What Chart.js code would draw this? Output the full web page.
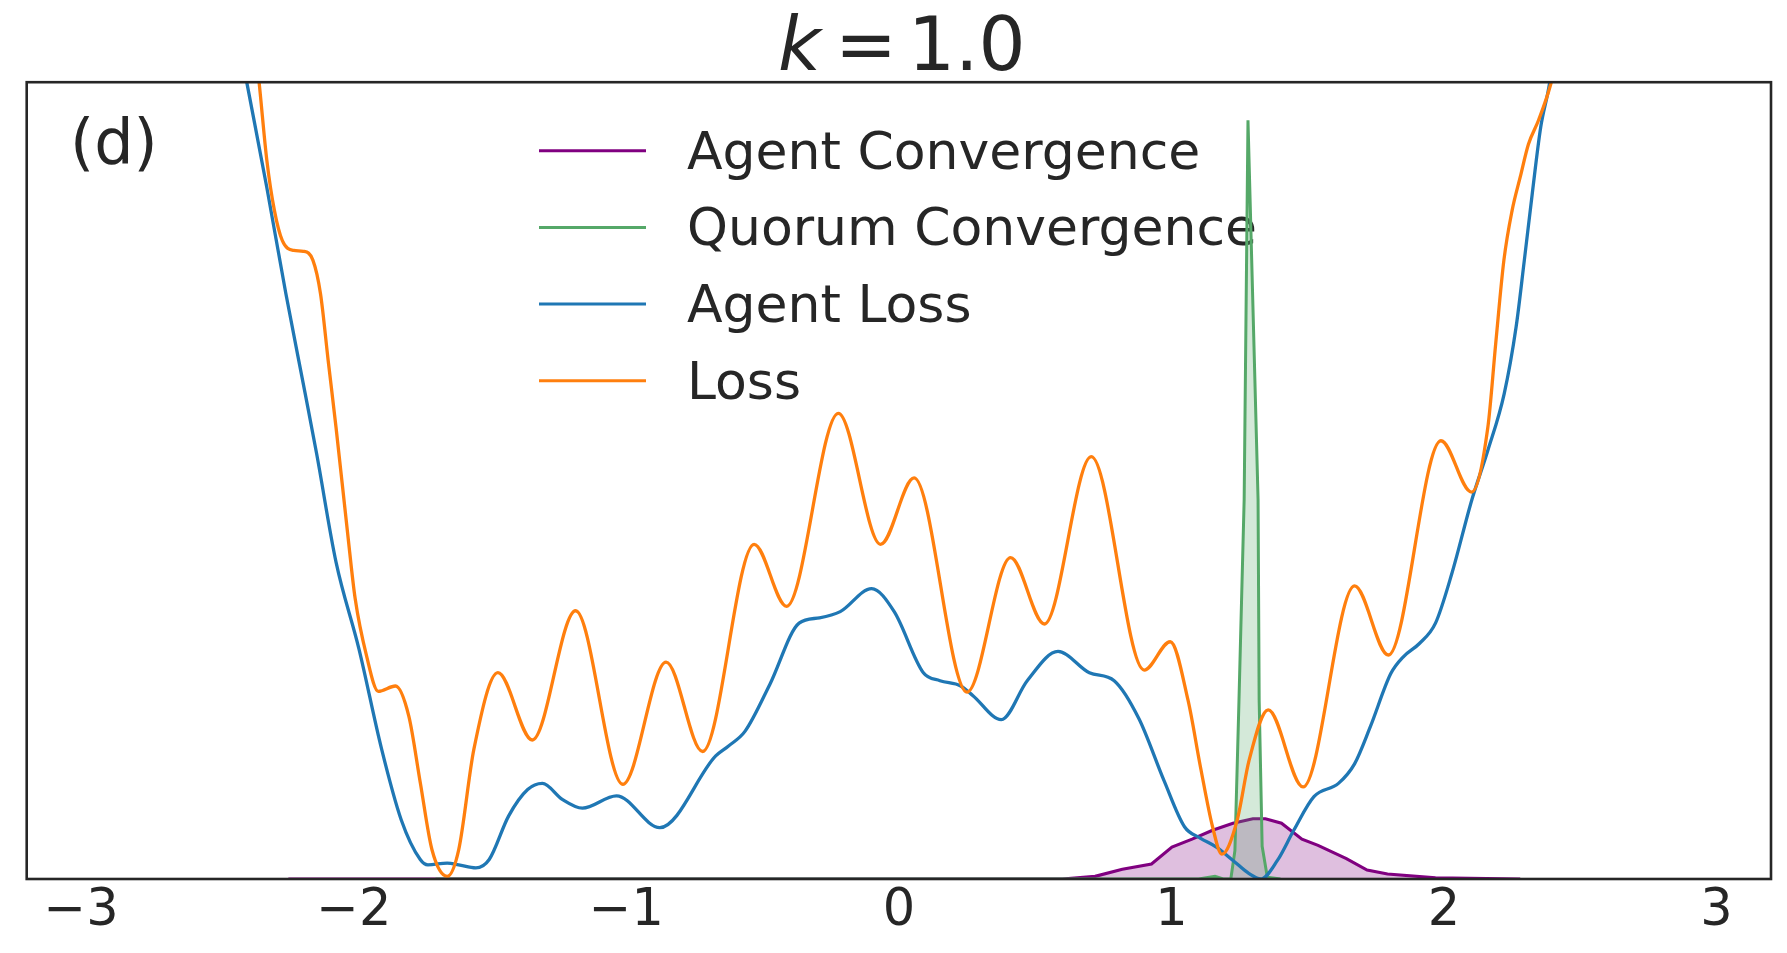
<!DOCTYPE html>
<html>
<head>
<meta charset="utf-8">
<title>k = 1.0</title>
<script src="https://cdn.jsdelivr.net/npm/chart.js@4.4.1/dist/chart.umd.min.js"></script>
<style>
  html, body { margin: 0; padding: 0; background: #fff; }
</style>
</head>
<body>
<canvas id="canvas" width="1787" height="953"></canvas>
<script>
// values (y in plot units, 0..9)
var xTicks = [-3, -2, -1, 0, 1, 2, 3];
var seriesNames = ['Agent Convergence', 'Quorum Convergence', 'Agent Loss', 'Loss'];
var seriesColors = ['#800080', '#55a868', '#1f77b4', '#ff7f0e'];

var agentConvX = [-2.24, 0.60, 0.72, 0.82, 0.927, 1.002, 1.076, 1.151, 1.226, 1.299, 1.345, 1.404, 1.479, 1.538, 1.642, 1.718, 1.793, 1.969, 2.28];
var agentConvY = [0, 0, 0.03, 0.11, 0.17, 0.36, 0.45, 0.55, 0.63, 0.68, 0.68, 0.63, 0.45, 0.38, 0.23, 0.10, 0.057, 0.013, 0];

var quorumConvX = [-1.70, 1.10, 1.16, 1.19, 1.218, 1.233, 1.248, 1.267, 1.281, 1.318, 1.322, 1.333, 1.352, 1.40];
var quorumConvY = [0, 0, 0.03, 0, 0, 0.32, 2.02, 4.29, 8.57, 4.29, 2.02, 0.37, 0.02, 0];

var agentLossX = [-2.43, -2.392, -2.319, -2.249, -2.178, -2.136, -2.065, -1.981, -1.898, -1.826, -1.756, -1.728, -1.657, -1.615, -1.552, -1.503, -1.432, -1.362, -1.308, -1.235, -1.161, -1.036, -0.877, -0.672, -0.626, -0.564, -0.473, -0.366, -0.291, -0.215, -0.100, -0.017, 0.090, 0.151, 0.227, 0.272, 0.376, 0.471, 0.584, 0.699, 0.790, 0.881, 0.973, 1.048, 1.107, 1.165, 1.226, 1.285, 1.328, 1.389, 1.449, 1.523, 1.613, 1.672, 1.730, 1.805, 1.851, 1.910, 1.969, 2.029, 2.103, 2.161, 2.221, 2.265, 2.295, 2.324, 2.355, 2.387, 2.416];
var agentLossY = [9.61, 8.99, 7.81, 6.61, 5.48, 4.80, 3.58, 2.60, 1.47, 0.67, 0.22, 0.16, 0.18, 0.16, 0.125, 0.22, 0.71, 1.01, 1.08, 0.90, 0.80, 0.94, 0.58, 1.39, 1.50, 1.67, 2.20, 2.89, 2.95, 3.02, 3.28, 3.02, 2.33, 2.24, 2.18, 2.07, 1.80, 2.24, 2.57, 2.33, 2.24, 1.81, 1.11, 0.59, 0.46, 0.36, 0.21, 0.06, 0.0, 0.21, 0.55, 0.93, 1.08, 1.30, 1.72, 2.32, 2.51, 2.66, 2.89, 3.45, 4.29, 4.84, 5.48, 6.24, 6.99, 7.74, 8.49, 8.98, 9.67];

var lossX = [-2.40, -2.347, -2.319, -2.291, -2.262, -2.220, -2.185, -2.150, -2.122, -2.094, -2.065, -2.023, -1.995, -1.953, -1.910, -1.847, -1.798, -1.756, -1.713, -1.657, -1.615, -1.559, -1.471, -1.345, -1.186, -1.013, -0.854, -0.720, -0.531, -0.412, -0.222, -0.067, 0.056, 0.250, 0.410, 0.534, 0.706, 0.900, 0.996, 1.061, 1.107, 1.151, 1.185, 1.241, 1.285, 1.355, 1.483, 1.672, 1.796, 1.989, 2.101, 2.161, 2.190, 2.220, 2.250, 2.280, 2.310, 2.347, 2.392, 2.433];
var lossY = [10.45, 8.99, 8.12, 7.55, 7.21, 7.10, 7.09, 6.99, 6.61, 5.86, 5.10, 3.92, 3.17, 2.52, 2.12, 2.18, 1.84, 1.09, 0.33, 0.03, 0.33, 1.47, 2.33, 1.57, 3.03, 1.07, 2.45, 1.44, 3.78, 3.08, 5.26, 3.78, 4.53, 2.11, 3.63, 2.88, 4.77, 2.36, 2.68, 2.02, 1.26, 0.59, 0.28, 0.66, 1.34, 1.91, 1.04, 3.31, 2.53, 4.95, 4.37, 5.10, 6.05, 6.99, 7.55, 7.93, 8.30, 8.57, 8.98, 9.54];

var textColor = '#262626';
var fontFamily = "'DejaVu Sans', sans-serif";

function toPoints(xs, ys) {
  return xs.map(function (x, i) { return { x: x, y: ys[i] }; });
}

// box round the plot area, like the axes spines
var framePlugin = {
  id: 'frame',
  afterDatasetsDraw: function (chart) {
    var a = chart.chartArea, ctx = chart.ctx;
    ctx.save();
    ctx.strokeStyle = textColor;
    ctx.lineWidth = 2.6;
    ctx.strokeRect(a.left, a.top, a.right - a.left, a.bottom - a.top);
    ctx.restore();
  }
};

// title with italic k, the panel letter and the legend inside the axes
var textPlugin = {
  id: 'texts',
  beforeDatasetsDraw: function (chart) {
    var ctx = chart.ctx;
    ctx.save();
    ctx.fillStyle = textColor;
    ctx.textBaseline = 'alphabetic';
    ctx.textAlign = 'left';

    ctx.font = "italic 74px " + fontFamily;
    ctx.fillText('k', 778, 70);
    ctx.font = "74px " + fontFamily;
    ctx.fillText('=', 835, 70);
    ctx.fillText('1.0', 908, 70);

    ctx.font = "62px " + fontFamily;
    ctx.fillText('(d)', 70, 163);

    ctx.font = "52px " + fontFamily;
    for (var i = 0; i < seriesNames.length; i++) {
      var y = 150.7 + i * 76.7;
      ctx.strokeStyle = seriesColors[i];
      ctx.lineWidth = 3;
      ctx.beginPath();
      ctx.moveTo(539, y);
      ctx.lineTo(646, y);
      ctx.stroke();
      ctx.fillText(seriesNames[i], 687, y + 18);
    }
    ctx.restore();
  }
};

var ctx = document.getElementById('canvas').getContext('2d');

new Chart(ctx, {
  type: 'line',
  data: {
    datasets: [
      {
        label: seriesNames[3],
        data: toPoints(lossX, lossY),
        borderColor: seriesColors[3],
        borderWidth: 3.3,
        pointRadius: 0,
        fill: false,
        cubicInterpolationMode: 'monotone',
        order: 1
      },
      {
        label: seriesNames[2],
        data: toPoints(agentLossX, agentLossY),
        borderColor: seriesColors[2],
        borderWidth: 3.3,
        pointRadius: 0,
        fill: false,
        cubicInterpolationMode: 'monotone',
        order: 2
      },
      {
        label: seriesNames[1],
        data: toPoints(quorumConvX, quorumConvY),
        borderColor: seriesColors[1],
        backgroundColor: 'rgba(85,168,104,0.25)',
        borderWidth: 3,
        pointRadius: 0,
        fill: 'origin',
        tension: 0,
        order: 3
      },
      {
        label: seriesNames[0],
        data: toPoints(agentConvX, agentConvY),
        borderColor: seriesColors[0],
        backgroundColor: 'rgba(128,0,128,0.25)',
        borderWidth: 3.1,
        pointRadius: 0,
        fill: 'origin',
        tension: 0,
        order: 4
      }
    ]
  },
  options: {
    responsive: false,
    animation: false,
    devicePixelRatio: 1,
    layout: { padding: { left: 26.7, top: 82.2, right: 16, bottom: 0 } },
    plugins: {
      legend: { display: false },
      tooltip: { enabled: false },
      title: { display: false }
    },
    scales: {
      x: {
        type: 'linear',
        min: -3.2,
        max: 3.2,
        afterBuildTicks: function (scale) {
          scale.ticks = xTicks.map(function (v) { return { value: v }; });
        },
        afterFit: function (scale) { scale.height = 74; },
        grid: { display: false, drawTicks: false },
        border: { display: false },
        ticks: {
          padding: 2,
          maxRotation: 0,
          autoSkip: false,
          color: textColor,
          font: { family: fontFamily, size: 51 },
          callback: function (v) { return v < 0 ? '\u2212' + Math.abs(v) : String(v); }
        }
      },
      y: {
        type: 'linear',
        min: 0,
        max: 9,
        display: false
      }
    }
  },
  plugins: [textPlugin, framePlugin]
});
</script>
</body>
</html>
